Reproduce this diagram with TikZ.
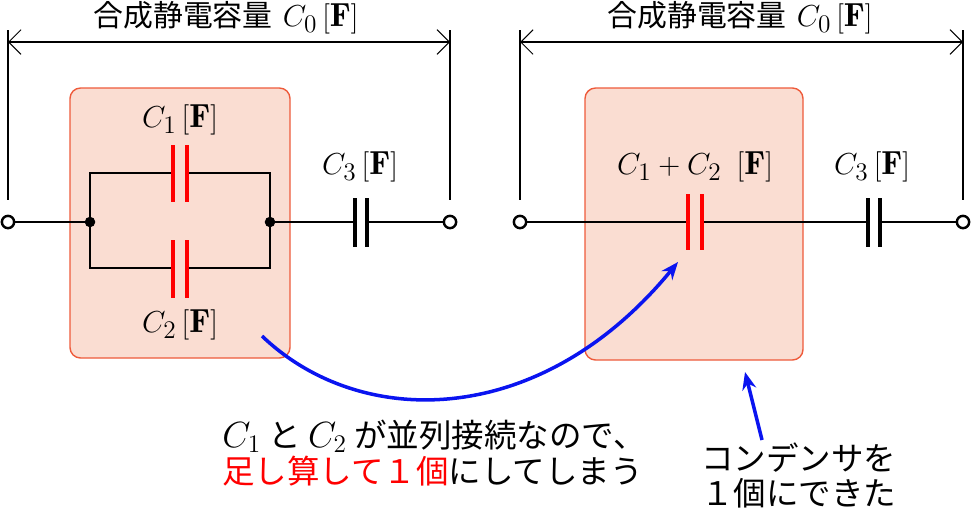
\documentclass[tikz,border=0pt]{standalone}
\usepackage{fontspec}
\newfontfamily\cjk{Noto Sans CJK JP}
\usetikzlibrary{arrows.meta}
\definecolor{boxf}{HTML}{FADDD2}
\definecolor{boxd}{HTML}{EE5A3A}
\definecolor{bl}{HTML}{0A14F0}
\begin{document}
\begin{tikzpicture}[x=0.02cm,y=-0.02cm,
 wire/.style={line width=1.6pt},
 plate/.style={line width=2pt},
 rplate/.style={line width=2pt,red},
 term/.style={circle,draw,line width=1.4pt,fill=white,inner sep=0pt,minimum size=7pt},
 dot/.style={circle,fill,inner sep=0pt,minimum size=6pt},
 box/.style={draw=boxd,fill=boxf,rounded corners=6pt,line width=0.8pt},
 lab/.style={font=\fontsize{19}{20}\selectfont,inner sep=1pt},
 dim/.style={line width=0.6pt},
 blarr/.style={bl,line width=2pt,-{Stealth[length=10pt,width=8pt]}},
 txt/.style={font=\cjk\fontsize{18.5}{20}\selectfont,inner sep=0pt,anchor=west}]
\useasboundingbox (0,0) rectangle (972,522);
% boxes
\draw[box] (70,88) rectangle (290,358);
\draw[box] (585,88) rectangle (803,360);
% dimension lines
\coordinate (l1t) at (8,30); \coordinate (l1b) at (8,200);
\coordinate (l2t) at (450,30); \coordinate (l2b) at (450,200);
\coordinate (r1t) at (520,30); \coordinate (r1b) at (520,200);
\coordinate (r2t) at (963,30); \coordinate (r2b) at (963,200);
\draw[dim] (l1t)--(l1b) (l2t)--(l2b) (r1t)--(r1b) (r2t)--(r2b);
\coordinate (la) at (8,42); \coordinate (lb) at (450,42);
\coordinate (ra) at (520,42); \coordinate (rb) at (963,42);
\draw[dim,{Straight Barb[length=7pt]}-{Straight Barb[length=7pt]}] (la)--(lb);
\draw[dim,{Straight Barb[length=7pt]}-{Straight Barb[length=7pt]}] (ra)--(rb);
\node[lab,fill=white,inner sep=0pt] (d1) at (226,18) {{\cjk\fontsize{17}{18}\selectfont 合成静電容量} $C_0\,[\mathbf{F}]$};
\node[lab,fill=white,inner sep=0pt] (d2) at (740,18) {{\cjk\fontsize{17}{18}\selectfont 合成静電容量} $C_0\,[\mathbf{F}]$};
% left circuit
\coordinate (a) at (90,222); \coordinate (b) at (270,222);
\draw[wire] (a)--(90,173)--(173,173) (187,173)--(270,173)--(b);
\draw[wire] (a)--(90,268)--(173,268) (187,268)--(270,268)--(b);
\draw[rplate] (173,145)--(173,202) (187,145)--(187,202);
\draw[rplate] (173,240)--(173,298) (187,240)--(187,298);
\draw[wire] (8,222)--(a) (b)--(355,222) (367,222)--(450,222);
\draw[plate] (355,198)--(355,247) (367,198)--(367,247);
\node[term] (t1) at (8,222) {}; \node[term] (t2) at (450,222) {};
\node[dot] (na) at (a) {}; \node[dot] (nb) at (b) {};
\node[lab] (c1) at (180,120) {$C_1\,[\mathbf{F}]$};
\node[lab] (c2) at (180,325) {$C_2\,[\mathbf{F}]$};
\node[lab] (c3) at (360,167) {$C_3\,[\mathbf{F}]$};
% right circuit
\draw[wire] (520,222)--(688,222) (702,222)--(868,222) (880,222)--(963,222);
\draw[rplate] (688,194)--(688,250) (702,194)--(702,250);
\draw[plate] (868,198)--(868,247) (880,198)--(880,247);
\node[term] (t3) at (520,222) {}; \node[term] (t4) at (963,222) {};
\node[lab] (c12) at (695,167) {$C_1+C_2\ \,[\mathbf{F}]$};
\node[lab] (c3r) at (872,167) {$C_3\,[\mathbf{F}]$};
% arrows
\coordinate (s1) at (262,336); \coordinate (e1) at (678,262);
\draw[blarr] (s1) .. controls (360,430) and (540,430) .. (e1);
\coordinate (s2) at (762,440); \coordinate (e2) at (745,372);
\draw[blarr] (s2)--(e2);
% texts
\node[txt] (m1) at (222,436) {{\rmfamily\fontsize{20}{20}\selectfont$C_1$} と {\rmfamily\fontsize{20}{20}\selectfont$C_2$} が並列接続なので、};
\node[txt] (m2) at (222,471) {\textcolor{red}{足し算して１個}にしてしまう};
\node[txt] (m3) at (701,458) {コンデンサを};
\node[txt] (m4) at (701,493) {１個にできた};
\end{tikzpicture}
\end{document}
